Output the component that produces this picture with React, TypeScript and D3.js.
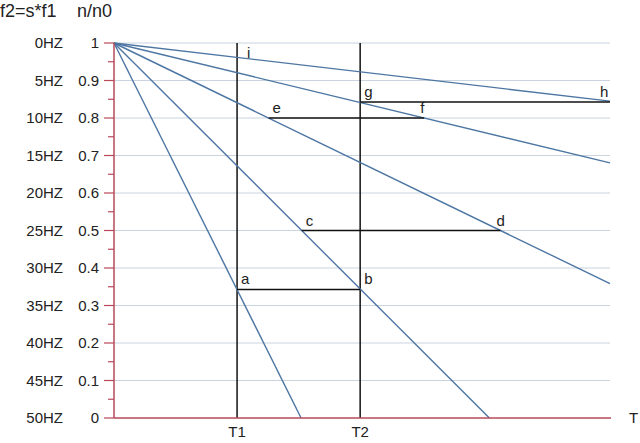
import React from "react";
import * as d3 from "d3";

const freqLabels = ["0HZ","5HZ","10HZ","15HZ","20HZ","25HZ","30HZ","35HZ","40HZ","45HZ","50HZ"];
const ratioTicks = [1,0.9,0.8,0.7,0.6,0.5,0.4,0.3,0.2,0.1,0];
const ratioLabels = ["1","0.9","0.8","0.7","0.6","0.5","0.4","0.3","0.2","0.1","0"];
// zero-crossing time (in T1 units) of each speed line starting at (0,1)
const lineZeros = [1.52, 3.05, 6.28, 12.6, 26];
const timeMarks = [{ name: "T1", t: 1 }, { name: "T2", t: 2 }];
const segments = [
  { y: 0.343, from: 1, to: 2, l1: "a", l2: "b" },
  { y: 0.5, from: 1.525, to: 3.14, l1: "c", l2: "d" },
  { y: 0.8, from: 1.256, to: 2.52, l1: "e", l2: "f" },
  { y: 0.843, from: 2, to: 4.03, l1: "g", l2: "h" },
];
const pointI = { t: 1, y: 0.962, label: "i" };
const X_MAX = 4.03;

export default function App() {
  const x = d3.scaleLinear().domain([0, X_MAX]).range([114, 610]);
  const y = d3.scaleLinear().domain([0, 1]).range([418, 43]);
  const minor = d3.range(0.05, 1, 0.1);
  const font = "Liberation Sans, Arial, sans-serif";
  const axisColor = "#b8485a";
  const lineColor = "#4d76a3";
  return (
    <svg width={640} height={443} style={{ position: "absolute", left: 0, top: 0, background: "#fff" }} fontFamily={font}>
      <text x={0} y={17} fontSize={18} fill="#222">f2=s*f1</text>
      <text x={77} y={17} fontSize={18} fill="#222">n/n0</text>
      {ratioTicks.map((v, i) => (
        <g key={i}>
          {v > 0 && <line x1={x(0)} x2={x(X_MAX)} y1={y(v)} y2={y(v)} stroke="#c9d4e0" strokeWidth={1} />}
          <line x1={x(0) - 10} x2={x(0)} y1={y(v)} y2={y(v)} stroke={axisColor} strokeWidth={1.2} />
          <text x={63} y={y(v)} dy="0.36em" textAnchor="end" fontSize={15} fill="#222">{freqLabels[i]}</text>
          <text x={99} y={y(v)} dy="0.36em" textAnchor="end" fontSize={15} fill="#222">{ratioLabels[i]}</text>
        </g>
      ))}
      {minor.map((v, i) => (
        <line key={i} x1={x(0) - 6} x2={x(0)} y1={y(v)} y2={y(v)} stroke={axisColor} strokeWidth={1.2} />
      ))}
      {timeMarks.map((m) => (
        <g key={m.name}>
          <line x1={x(m.t)} x2={x(m.t)} y1={y(1)} y2={y(0)} stroke="#111" strokeWidth={1.5} />
          <text x={x(m.t)} y={y(0) + 19} textAnchor="middle" fontSize={15} fill="#222">{m.name}</text>
        </g>
      ))}
      {lineZeros.map((z, i) => {
        const tEnd = Math.min(z, X_MAX);
        const yEnd = 1 - tEnd / z;
        return <line key={i} x1={x(0)} y1={y(1)} x2={x(tEnd)} y2={y(yEnd)} stroke={lineColor} strokeWidth={1.4} />;
      })}
      {segments.map((s, i) => (
        <g key={i}>
          <line x1={x(s.from)} x2={x(s.to)} y1={y(s.y)} y2={y(s.y)} stroke="#111" strokeWidth={1.5} />
          <text x={x(s.from) + 4} y={y(s.y) - 5} fontSize={15} fill="#222">{s.l1}</text>
          <text x={x(s.to) + (s.to >= X_MAX ? -10 : s.l2 === "b" ? 4 : -4)} y={y(s.y) - 5} fontSize={15} fill="#222">{s.l2}</text>
        </g>
      ))}
      <text x={x(pointI.t) + 10} y={y(pointI.y) + 1} fontSize={15} fill="#222">{pointI.label}</text>
      <line x1={x(0)} x2={x(0)} y1={y(1)} y2={y(0)} stroke={axisColor} strokeWidth={1.5} />
      <line x1={x(0)} x2={x(X_MAX) + 1} y1={y(0)} y2={y(0)} stroke={axisColor} strokeWidth={1.5} />
      <text x={629} y={y(0)} dy="0.36em" fontSize={15} fill="#222">T</text>
    </svg>
  );
}
